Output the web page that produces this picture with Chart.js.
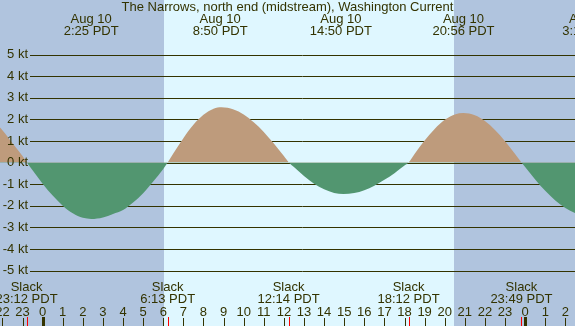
<!DOCTYPE html>
<html><head><meta charset="utf-8">
<script src="https://cdn.jsdelivr.net/npm/chart.js@4/dist/chart.umd.min.js"></script>
<style>html,body{margin:0;padding:0;background:#b0c4de}#wrap{width:575px;height:326px}</style>
</head><body><div id="wrap"><canvas id="c" width="575" height="326"></canvas></div>
<script>
// hours relative to Aug 10 00:00 PDT
const hours = [-3,-2.5,-2,-1.5,-1,-0.78,-0.5,0,0.5,1,1.5,2,2.42,3,3.5,4,4.5,5,5.5,6,6.22,6.5,7,7.5,8,8.5,8.9,9.5,10,10.5,11,11.5,12,12.25,12.5,13,13.5,14,14.5,14.96,15.5,16,16.5,17,17.5,18,18.2,18.5,19,19.5,20,20.5,20.93,21.5,22,22.5,23,23.5,23.82,24,24.5,25,25.5,26,26.5,27];
const knots = [2.25,1.95,1.5,0.9,0.3,0,-0.36,-0.98,-1.53,-2.0,-2.35,-2.56,-2.61,-2.54,-2.38,-2.2,-1.85,-1.42,-0.88,-0.3,0,0.42,1.13,1.75,2.21,2.49,2.56,2.46,2.23,1.87,1.42,0.88,0.3,0,-0.21,-0.62,-0.98,-1.24,-1.41,-1.46,-1.41,-1.28,-1.07,-0.8,-0.49,-0.14,0,0.4,1.02,1.56,1.98,2.23,2.3,2.19,1.92,1.51,0.99,0.4,0,-0.21,-0.78,-1.31,-1.76,-2.11,-2.34,-2.45];
const yTicks = [5,4,3,2,1,0,-1,-2,-3,-4,-5];
const hourTicks = [-2,-1,0,1,2,3,4,5,6,7,8,9,10,11,12,13,14,15,16,17,18,19,20,21,22,23,24,25,26];
const hourLabels = ['22','23','0','1','2','3','4','5','6','7','8','9','10','11','12','13','14','15','16','17','18','19','20','21','22','23','0','1','2'];
const midnights = [0,24];
const extremeTimes = [2.417,8.833,14.833,20.933,27.183];
const extremeDates = ['Aug 10','Aug 10','Aug 10','Aug 10','Aug 11'];
const extremeLabels = ['2:25 PDT','8:50 PDT','14:50 PDT','20:56 PDT','3:11 PDT'];
const slackTimes = [-0.8,6.217,12.233,18.2,23.817];
const slackLabels = ['23:12 PDT','6:13 PDT','12:14 PDT','18:12 PDT','23:49 PDT'];
const sunrise = 6.03, sunset = 20.46;
const title = 'The Narrows, north end (midstream), Washington Current';

const TXT = '#333300';
const FONT = '13px "Liberation Sans", Arial, sans-serif';

const deco = {
  id:'deco',
  beforeDraw(ch){
    const c=ch.ctx, x=ch.scales.x, a=ch.chartArea;
    c.save();
    c.fillStyle='#b0c4de'; c.fillRect(0,0,ch.width,ch.height);
    const x1=Math.round(x.getPixelForValue(sunrise)), x2=Math.round(x.getPixelForValue(sunset));
    c.fillStyle='#dff7ff'; c.fillRect(x1,0,x2-x1,ch.height);
    c.restore();
  },
  beforeDatasetsDraw(ch){
    const c=ch.ctx, y=ch.scales.y;
    c.save(); c.strokeStyle=TXT; c.lineWidth=1;
    yTicks.forEach(v=>{const py=Math.round(y.getPixelForValue(v))+0.5;c.beginPath();c.moveTo(30,py);c.lineTo(ch.width,py);c.stroke();});
    c.restore();
  },
  afterDatasetsDraw(ch){
    const c=ch.ctx, x=ch.scales.x, y=ch.scales.y;
    c.save(); c.fillStyle=TXT; c.font=FONT; c.textBaseline='middle';
    c.textAlign='right';
    yTicks.forEach(v=>c.fillText(v+' kt',28,y.getPixelForValue(v)));
    c.textAlign='center';
    c.fillText(title,ch.width/2,7);
    extremeTimes.forEach((t,i)=>{const px=x.getPixelForValue(t);c.fillText(extremeDates[i],px,19);c.fillText(extremeLabels[i],px,31);});
    slackTimes.forEach((t,i)=>{const px=x.getPixelForValue(t);c.fillText('Slack',px,287);c.fillText(slackLabels[i],px,299);});
    hourTicks.forEach((t,i)=>{const px=x.getPixelForValue(t);c.fillText(hourLabels[i],px,312);});
    c.fillStyle=TXT;
    hourTicks.forEach(t=>{const px=Math.round(x.getPixelForValue(t));c.fillRect(px,318,1,8);});
    midnights.forEach(t=>{const px=Math.round(x.getPixelForValue(t));c.fillRect(px-1,317,3,9);});
    c.fillStyle='#ff0000';
    slackTimes.forEach(t=>{const px=Math.round(x.getPixelForValue(t));c.fillRect(px,317,1,9);});
    c.restore();
  }
};

new Chart(document.getElementById('c'),{
  type:'line',
  data:{datasets:[{
    data:hours.map((h,i)=>({x:h,y:knots[i]})),
    borderColor:'rgba(0,0,0,0)', borderWidth:0, pointRadius:0,
    cubicInterpolationMode:'monotone',
    fill:{target:'origin',above:'#be9b7c',below:'#529670'}
  }]},
  options:{
    responsive:false, animation:false, devicePixelRatio:1,
    layout:{padding:0},
    plugins:{legend:{display:false},tooltip:{enabled:false},title:{display:false}},
    scales:{
      x:{type:'linear',min:-2.12,max:26.48,display:false},
      y:{type:'linear',min:-7.57,max:7.53,display:false}
    }
  },
  plugins:[deco]
});
</script></body></html>
